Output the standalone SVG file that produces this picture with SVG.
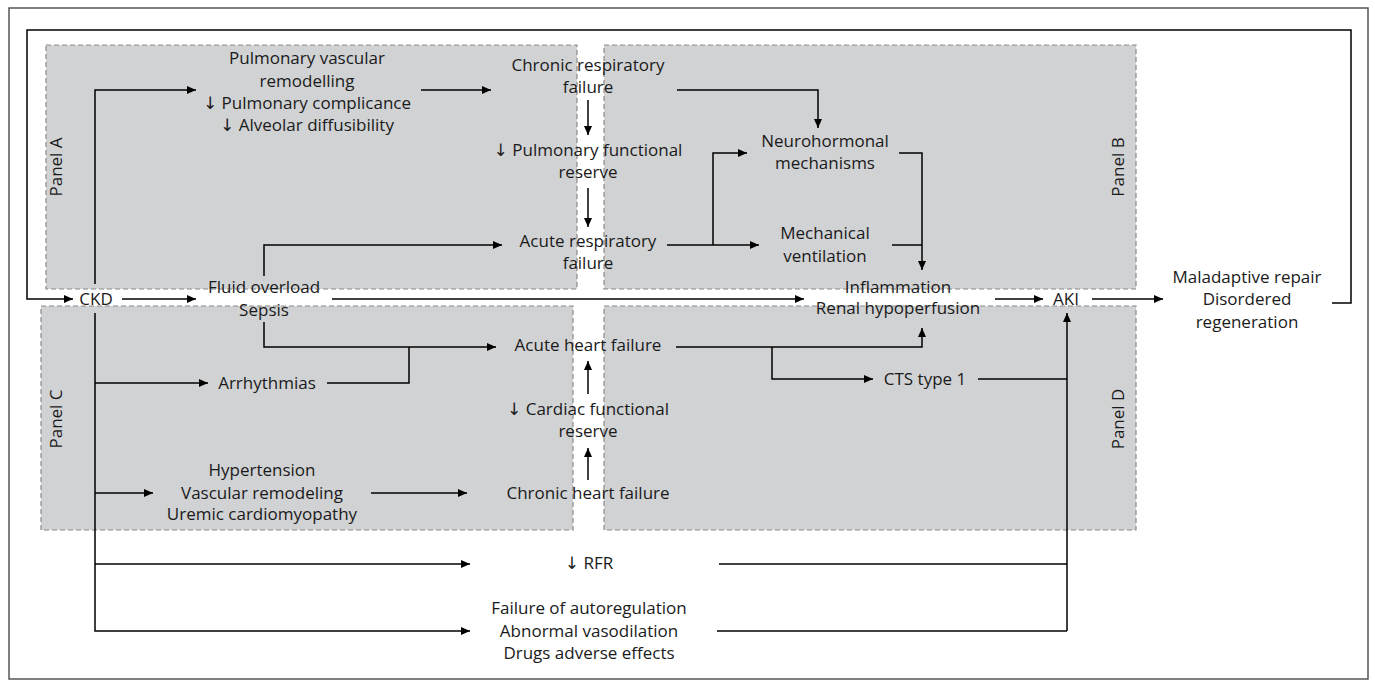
<svg xmlns="http://www.w3.org/2000/svg" width="1375" height="685" viewBox="0 0 1375 685">
<defs>
<marker id="ah" markerUnits="userSpaceOnUse" markerWidth="10" markerHeight="8" refX="9" refY="4" orient="auto"><path d="M0,0 L9,4 L0,8 z" fill="#000"/></marker>
<style>
.panel{fill:#d1d2d4;stroke:#8a8a8a;stroke-width:1.2;stroke-dasharray:5,3}
.c{fill:none;stroke:#000;stroke-width:1.5}
.a{marker-end:url(#ah)}
text{font-family:"Open Sans","Noto Sans","DejaVu Sans",sans-serif;font-size:17px;fill:#1a1a1a;text-anchor:middle}
</style>
</defs>
<rect x="0" y="0" width="1375" height="685" fill="#fff"/>
<rect x="9" y="8" width="1359" height="671" fill="none" stroke="#555" stroke-width="1.5"/>
<g id="panels">
<rect class="panel" x="46" y="45" width="531" height="244"/>
<rect class="panel" x="604" y="45" width="532" height="244"/>
<rect class="panel" x="41" y="306" width="532" height="224"/>
<rect class="panel" x="604" y="306" width="532" height="224"/>
<text transform="translate(62,167) rotate(-90)">Panel A</text>
<text transform="translate(1124,167) rotate(-90)">Panel B</text>
<text transform="translate(62,419) rotate(-90)">Panel C</text>
<text transform="translate(1124,419) rotate(-90)">Panel D</text>
</g>
<g id="connectors">
<path class="c a" d="M1332,303 H1351 V30 H27 V299 H73"/>
<path class="c a" d="M122,299 H196"/>
<path class="c a" d="M95,284 V90 H196"/>
<path class="c a" d="M95,313 V631 H470"/>
<path class="c a" d="M95,383 H208"/>
<path class="c a" d="M95,493 H153"/>
<path class="c a" d="M95,564 H470"/>
<path class="c a" d="M421,90 H491"/>
<path class="c a" d="M677,90 H818 V128"/>
<path class="c a" d="M588,100 V135"/>
<path class="c a" d="M588,188 V227"/>
<path class="c a" d="M264,276 V245 H502"/>
<path class="c a" d="M667,245 H759"/>
<path class="c a" d="M713,245 V153 H747"/>
<path class="c a" d="M899,153 H922 V270"/>
<path class="c" d="M892,245 H922"/>
<path class="c a" d="M332,299 H804"/>
<path class="c a" d="M995,299 H1043"/>
<path class="c a" d="M1092,299 H1163"/>
<path class="c a" d="M264,322 V347 H496"/>
<path class="c" d="M327,383 H409 V347"/>
<path class="c a" d="M676,347 H922 V328"/>
<path class="c a" d="M772,347 V379 H873"/>
<path class="c" d="M978,379 H1067"/>
<path class="c a" d="M1067,631 V313"/>
<path class="c" d="M719,564 H1067"/>
<path class="c" d="M717,631 H1067"/>
<path class="c a" d="M371,493 H467"/>
<path class="c a" d="M588,480 V448"/>
<path class="c a" d="M588,394 V361"/>
</g>
<g id="n-ckd"><text x="96" y="305">CKD</text></g>
<g id="n-pulm"><text x="307" y="64">Pulmonary vascular</text><text x="307" y="87">remodelling</text><text x="307" y="109">↓ Pulmonary complicance</text><text x="307" y="131">↓ Alveolar diffusibility</text></g>
<g id="n-chronresp"><text x="588" y="71">Chronic respiratory</text><text x="588" y="93">failure</text></g>
<g id="n-pfr"><text x="588" y="156">↓ Pulmonary functional</text><text x="588" y="178">reserve</text></g>
<g id="n-acuteresp"><text x="588" y="247">Acute respiratory</text><text x="588" y="269">failure</text></g>
<g id="n-neuro"><text x="825" y="147">Neurohormonal</text><text x="825" y="169">mechanisms</text></g>
<g id="n-mech"><text x="825" y="239">Mechanical</text><text x="825" y="262">ventilation</text></g>
<g id="n-fluid"><text x="264" y="293">Fluid overload</text><text x="264" y="316">Sepsis</text></g>
<g id="n-infl"><text x="898" y="293">Inflammation</text><text x="898" y="314">Renal hypoperfusion</text></g>
<g id="n-aki"><text x="1066" y="305">AKI</text></g>
<g id="n-mal"><text x="1247" y="283">Maladaptive repair</text><text x="1247" y="305">Disordered</text><text x="1247" y="328">regeneration</text></g>
<g id="n-ahf"><text x="588" y="351">Acute heart failure</text></g>
<g id="n-arr"><text x="267" y="389">Arrhythmias</text></g>
<g id="n-cts"><text x="925" y="385">CTS type 1</text></g>
<g id="n-cfr"><text x="588" y="415">↓ Cardiac functional</text><text x="588" y="437">reserve</text></g>
<g id="n-htn"><text x="262" y="476">Hypertension</text><text x="262" y="499">Vascular remodeling</text><text x="262" y="520">Uremic cardiomyopathy</text></g>
<g id="n-chf"><text x="588" y="499">Chronic heart failure</text></g>
<g id="n-rfr"><text x="589" y="569">↓ RFR</text></g>
<g id="n-auto"><text x="589" y="614">Failure of autoregulation</text><text x="589" y="637">Abnormal vasodilation</text><text x="589" y="659">Drugs adverse effects</text></g>
</svg>
